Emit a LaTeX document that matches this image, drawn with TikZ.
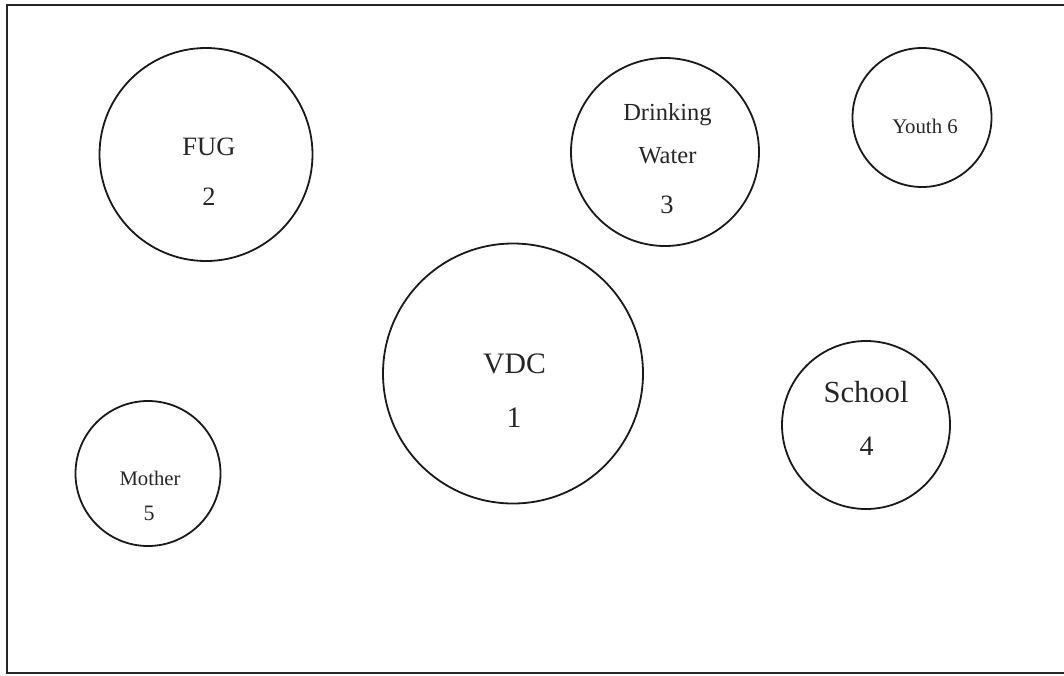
\documentclass[tikz,border=0pt]{standalone}
\usepackage{fontspec}
\setmainfont{Liberation Serif}
\begin{document}
\begin{tikzpicture}[x=1pt,y=-1pt,
  group/.style={draw=black!90,circle,line width=1.8pt,inner sep=0pt},
  lbl/.style={anchor=base,inner sep=0pt,text=black!85},
  frame/.style={line width=2.4pt,draw=black!85}]
\useasboundingbox (0,0) rectangle (1064,675);
\draw[frame] (1064,5) -- (7,5) -- (7,673) -- (1064,673);
% circles
\node[group,minimum size=213pt] (fug) at (206,154.5) {};
\node[group,minimum size=188pt] (water) at (665,152) {};
\node[group,minimum size=139pt] (youth) at (922,117.5) {};
\node[group,minimum size=260pt] (vdc) at (513,373.5) {};
\node[group,minimum size=168pt] (school) at (866,425) {};
\node[group,minimum size=145pt] (mother) at (148,473.5) {};
% labels
\node[lbl,font=\fontsize{26.5}{30}\selectfont] (fugt) at (209,155) {FUG};
\node[lbl,font=\fontsize{26.5}{30}\selectfont] (fugn) at (209,205) {2};
\node[lbl,font=\fontsize{24.5}{28}\selectfont] (watert1) at (667.5,120) {Drinking};
\node[lbl,font=\fontsize{24.5}{28}\selectfont] (watert2) at (667.5,163) {Water};
\node[lbl,font=\fontsize{26.5}{30}\selectfont] (watern) at (667,213) {3};
\node[lbl,font=\fontsize{20.8}{24}\selectfont] (youtht) at (925,133) {Youth 6};
\node[lbl,font=\fontsize{29.7}{34}\selectfont] (vdct) at (514.5,373) {VDC};
\node[lbl,font=\fontsize{29.7}{34}\selectfont] (vdcn) at (514,427) {1};
\node[lbl,font=\fontsize{30.6}{34}\selectfont] (schoolt) at (866,402) {School};
\node[lbl,font=\fontsize{28}{32}\selectfont] (schooln) at (866.5,455) {4};
\node[lbl,font=\fontsize{20.7}{24}\selectfont] (mothert) at (150,485) {Mother};
\node[lbl,font=\fontsize{22}{26}\selectfont] (mothern) at (149,520) {5};
\end{tikzpicture}
\end{document}
